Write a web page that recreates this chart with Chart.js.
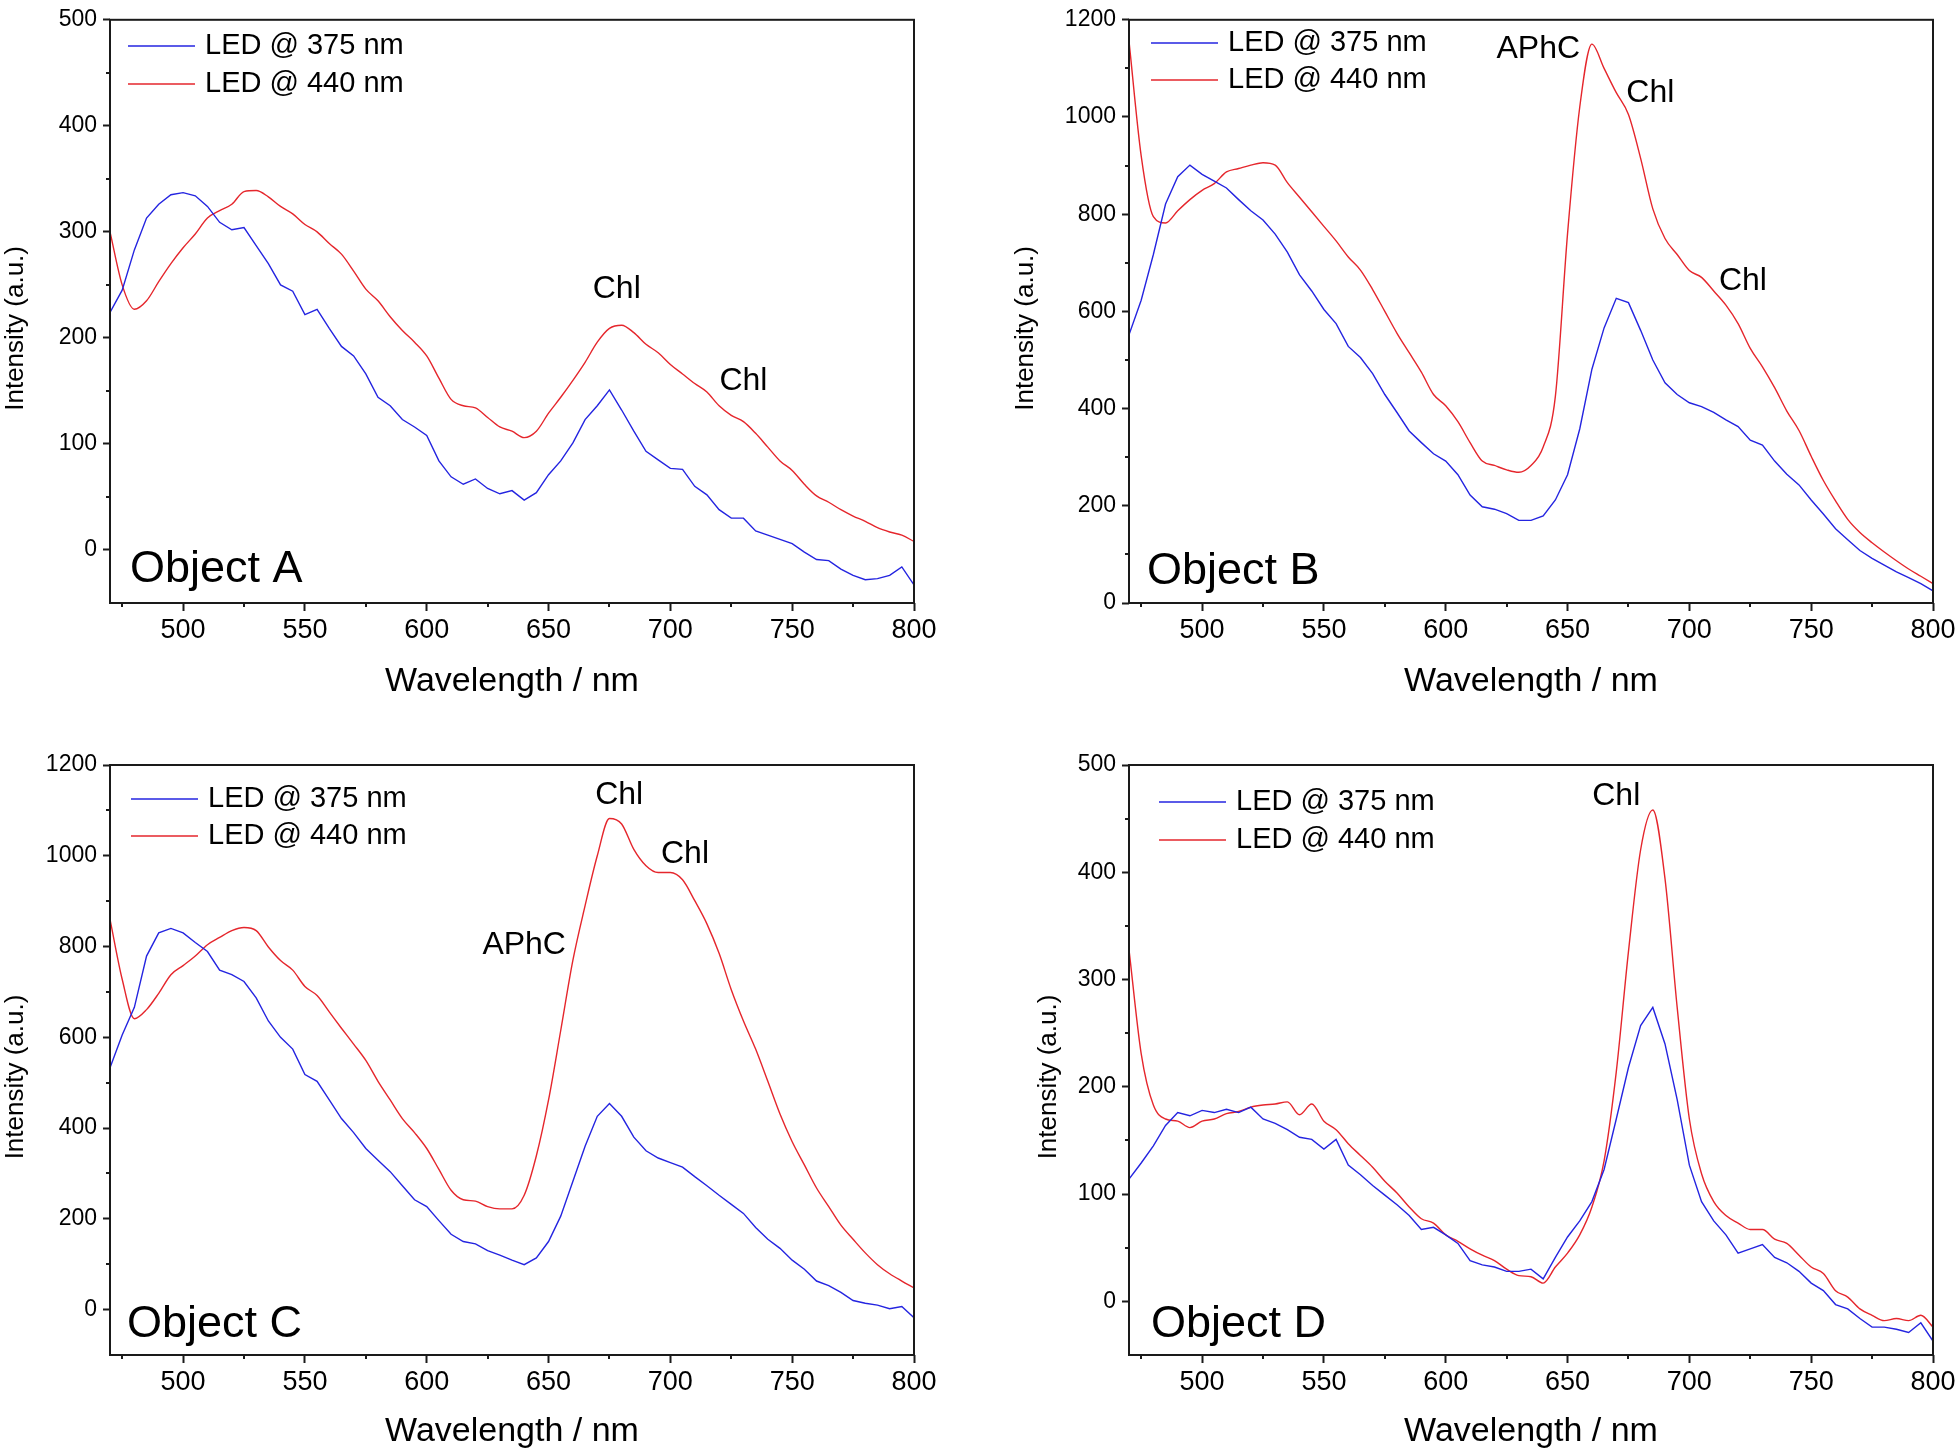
<!DOCTYPE html>
<html>
<head>
<meta charset="utf-8">
<script src="https://cdn.jsdelivr.net/npm/chart.js@4.4.1/dist/chart.umd.min.js"></script>
<style>
  html, body { margin: 0; padding: 0; background: #fff; }
  #wrap { position: relative; width: 1960px; height: 1456px; }
  .panel { position: absolute; width: 980px; height: 728px; }
</style>
</head>
<body>
<div id="wrap">
  <div class="panel" style="left:0;top:0"><canvas id="chartA" width="980" height="728"></canvas></div>
  <div class="panel" style="left:980px;top:0"><canvas id="chartB" width="980" height="728"></canvas></div>
  <div class="panel" style="left:0;top:728px"><canvas id="chartC" width="980" height="728"></canvas></div>
  <div class="panel" style="left:980px;top:728px"><canvas id="chartD" width="980" height="728"></canvas></div>
</div>
<script>
// wavelength grid (nm), shared by all panels
const wavelength = [470, 475, 480, 485, 490, 495, 500, 505, 510, 515, 520, 525, 530, 535, 540, 545, 550, 555, 560, 565,
  570, 575, 580, 585, 590, 595, 600, 605, 610, 615, 620, 625, 630, 635, 640, 645, 650, 655, 660, 665,
  670, 675, 680, 685, 690, 695, 700, 705, 710, 715, 720, 725, 730, 735, 740, 745, 750, 755, 760, 765,
  770, 775, 780, 785, 790, 795, 800];

const seriesNames = ['LED @ 375 nm', 'LED @ 440 nm'];
const panelNames = ['Object A', 'Object B', 'Object C', 'Object D'];

// Object A
const aBlue = [224, 245, 283, 313, 326, 335, 337, 334, 324, 309, 302, 304, 287, 270, 250, 244, 222, 227, 209, 192,
  183, 166, 144, 136, 123, 116, 108, 84, 69, 62, 67, 58, 53, 56, 47, 54, 71, 84, 101, 123,
  136, 151, 132, 112, 93, 85, 77, 76, 60, 52, 38, 30, 30, 18, 14, 10, 6, -2, -9, -10,
  -18, -24, -28, -27, -24, -16, -33];
const aRed = [300, 250, 227, 235, 253, 270, 285, 298, 313, 320, 326, 338, 339, 333, 324, 317, 307, 300, 289, 279,
  263, 246, 235, 220, 207, 196, 183, 162, 142, 136, 134, 125, 116, 112, 106, 112, 129, 144, 160, 177,
  196, 209, 212, 205, 194, 186, 175, 166, 157, 149, 136, 127, 121, 110, 97, 84, 75, 62, 51, 45,
  38, 32, 27, 21, 17, 14, 8];

// Object B
const bBlue = [552, 623, 717, 821, 877, 901, 882, 868, 854, 830, 807, 788, 759, 722, 675, 642, 604, 575, 528, 505,
  472, 429, 392, 354, 330, 307, 292, 264, 222, 198, 193, 184, 170, 170, 179, 212, 264, 358, 481, 566,
  627, 618, 561, 500, 453, 429, 412, 404, 392, 377, 363, 335, 325, 292, 265, 243, 212, 183, 153, 130,
  108, 92, 78, 64, 52, 40, 25];
const bRed = [1156, 920, 795, 782, 807, 830, 849, 863, 887, 894, 901, 906, 901, 865, 835, 805, 775, 745, 712, 685,
  645, 600, 555, 515, 475, 429, 406, 373, 330, 292, 283, 274, 269, 283, 321, 425, 760, 1020, 1150, 1100,
  1050, 1005, 915, 811, 750, 717, 684, 670, 642, 613, 575, 524, 486, 443, 395, 355, 302, 252, 210, 172,
  145, 124, 105, 87, 70, 55, 40];

// Object C
const cBlue = [533, 605, 666, 779, 830, 840, 830, 809, 789, 748, 738, 723, 687, 636, 600, 574, 518, 503, 462, 421,
  390, 355, 329, 304, 273, 242, 227, 196, 166, 150, 145, 130, 120, 109, 99, 114, 150, 206, 283, 360,
  426, 454, 426, 380, 350, 334, 324, 314, 293, 273, 252, 232, 212, 181, 155, 135, 109, 89, 63, 53,
  38, 20, 14, 10, 2, 7, -18];
const cRed = [860, 728, 641, 661, 697, 738, 758, 779, 804, 820, 835, 842, 835, 799, 769, 748, 712, 692, 656, 620,
  585, 549, 503, 462, 421, 390, 355, 309, 263, 242, 239, 227, 222, 222, 252, 339, 462, 615, 770, 890,
  1000, 1082, 1070, 1014, 978, 963, 963, 947, 901, 850, 785, 705, 636, 574, 503, 431, 370, 319, 268, 227,
  186, 155, 125, 99, 79, 63, 48];

// Object D
const dBlue = [114, 129, 145, 164, 176, 173, 178, 176, 179, 176, 181, 170, 166, 160, 153, 151, 142, 151, 127, 118,
  108, 99, 90, 80, 67, 69, 62, 54, 38, 34, 32, 28, 28, 30, 21, 41, 60, 75, 93, 123,
  170, 218, 257, 274, 240, 188, 127, 93, 75, 62, 45, 49, 53, 41, 36, 28, 17, 10, -3, -7,
  -16, -24, -24, -26, -29, -20, -37];
const dRed = [328, 231, 183, 170, 168, 162, 168, 170, 175, 177, 181, 183, 184, 186, 174, 184, 168, 160, 147, 136,
  125, 112, 101, 88, 77, 73, 62, 56, 49, 43, 38, 30, 24, 23, 17, 32, 45, 62, 88, 131,
  214, 326, 421, 458, 394, 274, 170, 119, 93, 80, 73, 67, 67, 58, 54, 43, 32, 26, 10, 4,
  -7, -13, -18, -16, -18, -13, -24];

// axis ticks
const xTicks = [500, 550, 600, 650, 700, 750, 800];
const xMinor = [475, 525, 575, 625, 675, 725, 775];
const yTicks500 = [0, 100, 200, 300, 400, 500];
const yMinor500 = [50, 150, 250, 350, 450];
const yTicks1200 = [0, 200, 400, 600, 800, 1000, 1200];
const yMinor1200 = [100, 300, 500, 700, 900, 1100];

// peak labels, in data coordinates
const notesA = [{ text: 'Chl', x: 678, y: 246 }, { text: 'Chl', x: 730, y: 159 }];
const notesB = [{ text: 'APhC', x: 638, y: 1139 }, { text: 'Chl', x: 684, y: 1049 }, { text: 'Chl', x: 722, y: 662 }];
const notesC = [{ text: 'Chl', x: 679, y: 1134 }, { text: 'Chl', x: 706, y: 1004 }, { text: 'APhC', x: 640, y: 803 }];
const notesD = [{ text: 'Chl', x: 670, y: 471 }];

const BLUE = '#2424e0';
const RED = '#e5262c';
const AXIS = '#1a1a1a';
const FONT = '"Liberation Sans", Arial, sans-serif';

function decorPlugin(p) {
  return {
    id: 'decor',
    afterDatasetsDraw(chart) {
      const { ctx, chartArea: a, scales: { x, y } } = chart;
      ctx.save();
      // box around the plot
      ctx.strokeStyle = AXIS;
      ctx.lineWidth = 2;
      ctx.strokeRect(a.left, a.top, a.right - a.left, a.bottom - a.top);
      // minor ticks
      ctx.beginPath();
      xMinor.forEach(v => {
        const px = Math.round(x.getPixelForValue(v));
        ctx.moveTo(px, a.bottom); ctx.lineTo(px, a.bottom + 4);
      });
      p.yMinor.forEach(v => {
        const py = Math.round(y.getPixelForValue(v));
        ctx.moveTo(a.left, py); ctx.lineTo(a.left - 4, py);
      });
      ctx.stroke();

      // legend
      ctx.lineWidth = 1.4;
      ctx.textBaseline = 'middle';
      ctx.textAlign = 'left';
      ctx.fillStyle = '#000';
      ctx.font = '29px ' + FONT;
      [BLUE, RED].forEach((col, i) => {
        const yy = p.legY + i * p.legGap;
        ctx.strokeStyle = col;
        ctx.beginPath();
        ctx.moveTo(p.legX, yy); ctx.lineTo(p.legX + 67, yy);
        ctx.stroke();
        ctx.fillText(seriesNames[i], p.legX + 77, yy);
      });

      // peak labels
      ctx.font = '32px ' + FONT;
      ctx.textAlign = 'center';
      p.notes.forEach(n => {
        ctx.fillText(n.text, x.getPixelForValue(n.x), y.getPixelForValue(n.y));
      });

      // panel name
      ctx.font = '45px ' + FONT;
      ctx.textAlign = 'left';
      ctx.textBaseline = 'alphabetic';
      ctx.fillText(p.name, a.left + p.nameDx, a.bottom - p.nameDy);

      // y axis title
      ctx.font = '26px ' + FONT;
      ctx.textAlign = 'center';
      ctx.textBaseline = 'middle';
      ctx.translate(p.yTitleX, (a.top + a.bottom) / 2 + 17);
      ctx.rotate(-Math.PI / 2);
      ctx.fillText('Intensity (a.u.)', 0, 0);
      ctx.restore();
    }
  };
}

function makePanel(id, blue, red, p) {
  const pts = vals => wavelength.map((w, i) => ({ x: w, y: vals[i] }));
  new Chart(document.getElementById(id), {
    type: 'line',
    data: {
      datasets: [
        { label: seriesNames[0], data: pts(blue), borderColor: BLUE, borderWidth: 1.4, pointRadius: 0, tension: 0 },
        { label: seriesNames[1], data: pts(red), borderColor: RED, borderWidth: 1.4, pointRadius: 0,
          cubicInterpolationMode: 'monotone' }
      ]
    },
    options: {
      responsive: false,
      animation: false,
      devicePixelRatio: 1,
      layout: { padding: { left: 0, right: p.padR, top: p.padT, bottom: 0 } },
      plugins: { legend: { display: false }, tooltip: { enabled: false } },
      scales: {
        x: {
          type: 'linear', min: 470, max: 800,
          afterBuildTicks: s => { s.ticks = xTicks.map(v => ({ value: v })); },
          afterFit: s => { s.height = p.xH; },
          border: { display: false },
          grid: { drawOnChartArea: false, tickLength: 8, tickWidth: 2, tickColor: AXIS },
          ticks: { color: '#000', font: { family: FONT, size: 27 }, padding: 3, maxRotation: 0, autoSkip: false,
                   callback: v => String(v) },
          title: { display: true, text: 'Wavelength / nm', color: '#000', font: { family: FONT, size: 34 },
                   padding: { top: 0, bottom: p.xTitlePad } }
        },
        y: {
          type: 'linear', min: p.yMin, max: p.yMax,
          afterBuildTicks: s => { s.ticks = p.yTicks.map(v => ({ value: v })); },
          afterFit: s => { s.width = p.yW; },
          border: { display: false },
          grid: { drawOnChartArea: false, tickLength: 7, tickWidth: 2, tickColor: AXIS },
          ticks: { color: '#000', font: { family: FONT, size: 23 }, padding: 6, autoSkip: false,
                   callback: v => String(v) }
        }
      }
    },
    plugins: [decorPlugin(p)]
  });
}

makePanel('chartA', aBlue, aRed, {
  yMin: -50, yMax: 500, yTicks: yTicks500, yMinor: yMinor500, notes: notesA, name: panelNames[0],
  yW: 110, padR: 66, padT: 13, xH: 125, xTitlePad: 26, yTitleX: 16,
  legX: 128, legY: 46, legGap: 38, nameDx: 20, nameDy: 21
});
makePanel('chartB', bBlue, bRed, {
  yMin: 0, yMax: 1200, yTicks: yTicks1200, yMinor: yMinor1200, notes: notesB, name: panelNames[1],
  yW: 149, padR: 27, padT: 14, xH: 125, xTitlePad: 26, yTitleX: 46,
  legX: 171, legY: 43, legGap: 37, nameDx: 18, nameDy: 19
});
makePanel('chartC', cBlue, cRed, {
  yMin: -100, yMax: 1200, yTicks: yTicks1200, yMinor: yMinor1200, notes: notesC, name: panelNames[2],
  yW: 110, padR: 66, padT: 37, xH: 101, xTitlePad: 4, yTitleX: 16,
  legX: 131, legY: 71, legGap: 37, nameDx: 17, nameDy: 18
});
makePanel('chartD', dBlue, dRed, {
  yMin: -50, yMax: 500, yTicks: yTicks500, yMinor: yMinor500, notes: notesD, name: panelNames[3],
  yW: 149, padR: 27, padT: 37, xH: 101, xTitlePad: 4, yTitleX: 69,
  legX: 179, legY: 74, legGap: 38, nameDx: 22, nameDy: 18
});
</script>
</body>
</html>
